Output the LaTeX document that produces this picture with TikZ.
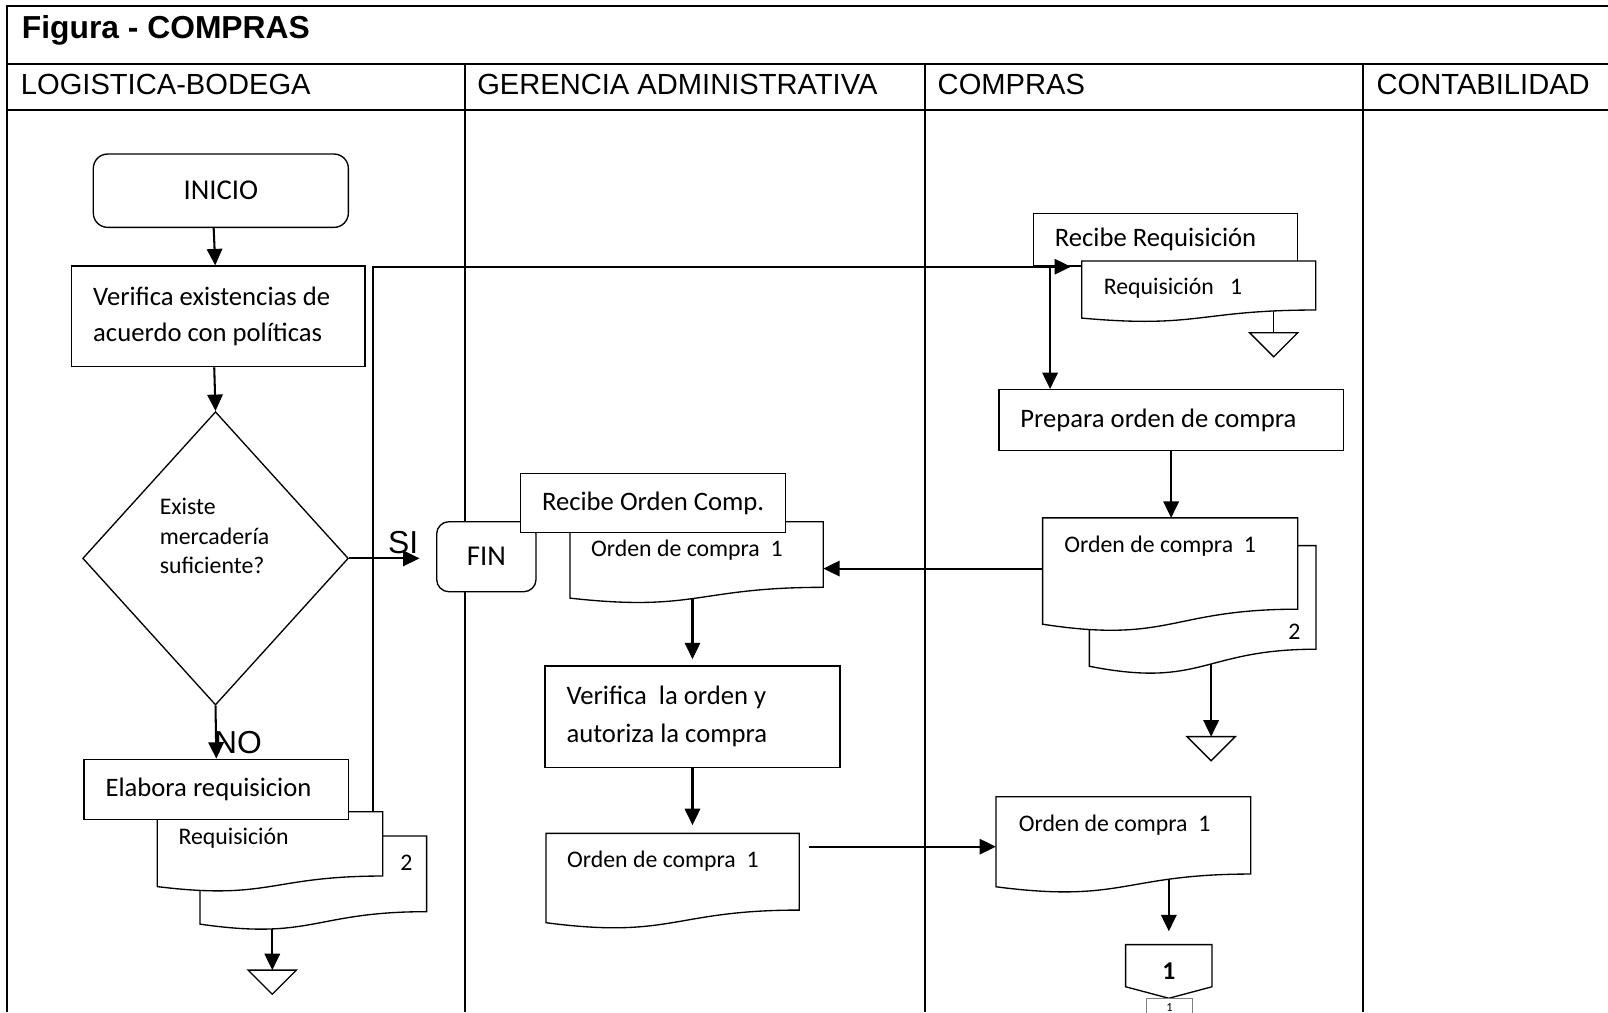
\documentclass[tikz,border=0pt]{standalone}
\usepackage{fontspec}
\setmainfont{Carlito}
\newfontfamily\arialfont{Liberation Sans}
\usetikzlibrary{arrows.meta,calc,shapes.geometric}
\pgfdeclarelayer{bg}
\pgfsetlayers{bg,main}

% process box given by its corners: [options]{name}{x1}{y1}{x2}{y2}{text}
\newcommand\procbox[7][]{%
  \pgfmathsetmacro\bw{(#5-#3)/2}%
  \pgfmathsetmacro\bh{(#6-#4)/2}%
  \pgfmathsetmacro\tw{(#5-#3)/2-21}%
  \node[proc,minimum width=\bw pt,minimum height=\bh pt,text width=\tw pt,#1] (#2) at ({(#3+#5)/2},{(#4+#6)/2}) {#7};}

% box with its text centred (no fixed text width)
\newcommand\termbox[8][]{%
  \pgfmathsetmacro\bw{(#5-#3)/2}%
  \pgfmathsetmacro\bh{(#6-#4)/2}%
  \node[#8,minimum width=\bw pt,minimum height=\bh pt,#1] (#2) at ({(#3+#5)/2},{(#4+#6)/2}) {#7};}

% document symbol with wavy bottom: {name}{x1}{ytop}{x2}{height}
\newcommand\docnode[5]{%
  \pgfmathsetmacro\bw{(#4-#2)/2}%
  \pgfmathsetmacro\bh{#5/2}%
  \node[docframe,minimum width=\bw pt,minimum height=\bh pt] (#1) at ({(#2+#4)/2},{#3+#5/2}) {};%
  \draw[docline] (#1.north west) -- (#1.north east)
    -- ($(#1.north east)!0.802!(#1.south east)$)
    .. controls ($(#1.north)!0.802!(#1.south)$) and ($(#1.north)!1.107!(#1.south)$)
    .. ($(#1.north west)!0.934!(#1.south west)$) -- cycle;}

% merge (storage) triangle hanging below a point
\newcommand\mergetri[3]{%
  \coordinate (#1) at (#2,#3);%
  \draw[tri] (#1) ++(-23.5,0) -- ++(47,0) -- ++(-23.5,23.5) -- cycle;}

\begin{document}
\begin{tikzpicture}[x=0.5pt,y=-0.5pt,
  frame/.style={line width=1pt},
  proc/.style={draw,line width=0.65pt,fill=white,rectangle,inner xsep=10.5pt,inner ysep=0pt,align=flush left,font=\fontsize{13}{17.5}\selectfont},
  term/.style={draw,line width=0.65pt,fill=white,rectangle,rounded corners=7pt,inner sep=0pt,align=center,font=\fontsize{14}{16}\selectfont},
  docframe/.style={inner sep=0pt,outer sep=0pt},
  docline/.style={line width=0.65pt,fill=white},
  doctext/.style={anchor=west,inner sep=0pt,font=\fontsize{11.6}{13}\selectfont},
  head/.style={anchor=base west,inner sep=0pt,font=\arialfont\fontsize{14.2}{16}\selectfont},
  arr/.style={line width=1pt,-{Triangle[length=8pt,width=7.5pt]}},
  link/.style={line width=0.65pt},
  tri/.style={line width=0.65pt,fill=white},
]
\useasboundingbox (0,0) rectangle (1568,987);

% table frame: title row, lane headers and lane separators
\begin{pgfonlayer}{bg}
  \fill[white] (0,0) rectangle (1568,987);
  \draw[frame] (1568,6) -- (7,6) -- (7,987);
  \draw[frame] (7,62) -- (1568,62);
  \draw[frame] (7,107) -- (1568,107);
  \foreach \x in {453,902,1329} \draw[frame] (\x,62) -- (\x,987);
\end{pgfonlayer}

\node[anchor=base west,inner sep=0pt,font=\arialfont\bfseries\fontsize{15.5}{17}\selectfont] (title) at (21,38) {Figura - COMPRAS};
\node[head] (h1) at (20,92) {LOGISTICA-BODEGA};
\node[head] (h2) at (465,92) {GERENCIA ADMINISTRATIVA};
\node[head] (h3) at (914,92) {COMPRAS};
\node[head] (h4) at (1342,92) {CONTABILIDAD};

% ---- Logistica - Bodega
\termbox{inicio}{91}{150.2}{339.7}{221.7}{INICIO}{term}
\procbox{verif}{69.9}{259.4}{355.9}{357.5}{Verifica existencias de\\acuerdo con políticas}
\node[draw,line width=0.65pt,fill=white,diamond,inner sep=0pt,minimum width=129.55pt,minimum height=143.05pt] (dec) at (210.15,544.45) {};
\node[anchor=west,inner sep=0pt,align=flush left,font=\fontsize{11.6}{14.25}\selectfont] (dtext) at (155.4,522.7) {Existe\\mercadería\\suficiente?};
\docnode{reqb}{195}{815.2}{416}{92}
\docnode{reqf}{153.4}{791.5}{373.2}{78.2}
\procbox{elab}{81.9}{740.4}{340}{799}{Elabora requisicion}
\node[doctext] (treqf) at (173.7,817) {Requisición};
\node[doctext] (treqb) at (390,841.7) {2};
\mergetri{m2}{265.5}{946}

% ---- Gerencia administrativa
\termbox[rounded corners=6pt]{fin}{425.8}{508.7}{522.7}{577}{FIN}{term}
\docnode{ocg}{555.8}{508.7}{802.8}{79.8}
\termbox{rorden}{507.7}{461.6}{766.1}{519.4}{Recibe Orden Comp.}{proc}
\node[doctext] (tocg) at (576,536.3) {Orden de compra\ \ 1};
\procbox[font=\fontsize{13}{18.7}\selectfont]{vo}{531.4}{649.4}{819.1}{748.2}{Verifica\ \ la orden y\\autoriza la compra}
\docnode{ocg2}{532.4}{812.6}{779.4}{93.3}
\node[doctext] (tocg2) at (552.6,840.2) {Orden de compra\ \ 1};

% ---- Compras
\procbox{rrec}{1007.6}{208}{1265.4}{259.4}{Recibe Requisición}
\docnode{rreq}{1054.8}{254.5}{1283}{59.6}
\node[doctext] (trreq) at (1076,281) {Requisición\ \ \ 1};
\mergetri{m1}{1242}{324.4}
\procbox{prep}{974}{380}{1310}{439}{Prepara orden de compra}
\docnode{ocb}{1062.3}{532}{1283.3}{126}
\docnode{ocf}{1016.7}{505}{1265.4}{111}
\node[doctext] (tocf) at (1037.5,533) {Orden de compra\ \ 1};
\node[doctext] (tocb) at (1256,616) {2};
\mergetri{m3}{1181}{718.3}
\docnode{oc3}{971.2}{776.9}{1219.6}{94}
\node[doctext] (toc3) at (993,804.5) {Orden de compra\ \ 1};

% off-page connector
\node[inner sep=0pt,minimum width=41.75pt,minimum height=25.75pt,font=\fontsize{12.5}{14}\selectfont\bfseries] (conn) at (1139.75,947.25) {1};
\draw[link] (conn.north west) -- (conn.north east)
  -- ($(conn.north east)!0.786!(conn.south east)$) -- (conn.south)
  -- ($(conn.north west)!0.786!(conn.south west)$) -- cycle;
\node[draw=gray,line width=0.5pt,inner sep=0pt,minimum width=22.35pt,minimum height=13.5pt,anchor=north] (pg) at (1140.35,973) {};
\node[inner sep=0pt,font=\fontsize{6}{7}\selectfont] (pgnum) at (1140.35,982.5) {1};

% decision labels
\node[anchor=base west,inner sep=0pt,font=\arialfont\fontsize{15.5}{17}\selectfont] (si) at (378,539.5) {SI};
\node[anchor=base west,inner sep=0pt,font=\arialfont\fontsize{15.5}{17}\selectfont] (no) at (208.5,734.6) {NO};

% requisition sent to Compras
\coordinate (rqa) at ($(reqf.north west)!0.955!(reqf.north east)$);
\coordinate (rqb) at ($(rrec.south west)+(37.4,0)$);
\draw[arr] (rqa) |- (rqb);

% flow connectors
\begin{pgfonlayer}{bg}
  \draw[arr] ($(inicio.south)+(-7,0)$) -- ($(verif.north)+(-3,0)$);
  \draw[arr] ($(verif.south)+(-4,0)$) -- (dec.north);
  \draw[arr] (dec.south) -- (elab.north);
  \draw[arr] (dec.east) -- ($(dec.east -| fin.west)+(-16,0)$);
  \draw[arr] (m2 |- reqb.center) -- (m2);
  \coordinate (rqc) at ($(rrec.south west)+(17,0)$);
  \draw[arr] (rqc) -- (rqc |- prep.north);
  \draw[link] (m1 |- rreq.center) -- (m1);
  \draw[arr] (prep.south) -- (prep.south |- ocf.north);
  \coordinate (ocl) at ($(ocf.north west)!0.445!(ocf.south west)$);
  \draw[arr] (ocl) -- (ocl -| ocg.east);
  \draw[arr] (m3 |- ocb.center) -- (m3);
  \draw[arr] (vo.north |- ocg.center) -- ($(vo.north)+(0,-6)$);
  \draw[arr] (vo.south) -- ($(vo.south |- ocg2.north)+(0,-8)$);
  \coordinate (oga) at ($(ocg2.north east)+(9,13)$);
  \draw[arr] (oga) -- (oga -| oc3.west);
  \draw[arr] (conn.north |- oc3.center) -- ($(conn.north)+(0,-13)$);
\end{pgfonlayer}
\end{tikzpicture}
\end{document}
